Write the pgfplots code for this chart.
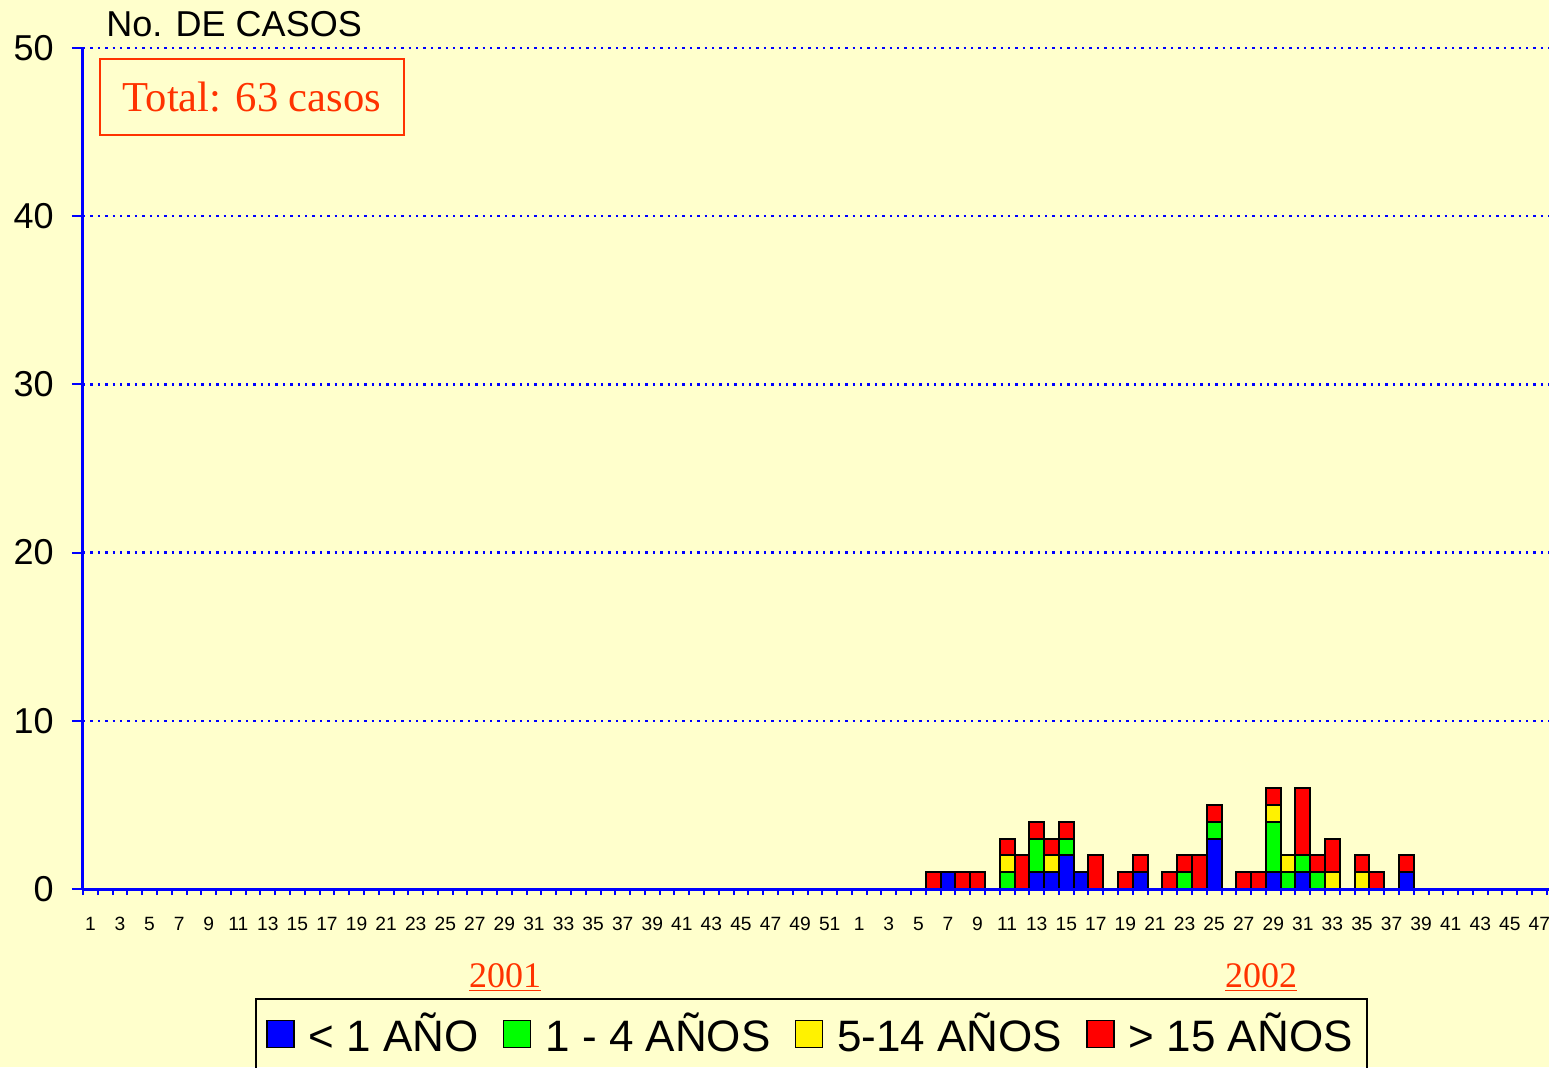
\documentclass[border=0pt]{standalone}
\usepackage{pgfplots}
\usepackage{pgfplotstable}
\usepackage{fontspec}
\pgfplotsset{compat=1.18}
\setmainfont{Liberation Sans}
\newfontfamily\timesf{Liberation Serif}
\definecolor{bgc}{HTML}{FFFFCC}
\definecolor{totc}{HTML}{FF3300}

% x = 51 + week of 2002 ; b <1, g 1-4, y 5-14, r >15
\pgfplotstableread{
x  b g y r
57 0 0 0 1
58 1 0 0 0
59 0 0 0 1
60 0 0 0 1
62 0 1 1 1
63 0 0 0 2
64 1 2 0 1
65 1 0 1 1
66 2 1 0 1
67 1 0 0 0
68 0 0 0 2
70 0 0 0 1
71 1 0 0 1
73 0 0 0 1
74 0 1 0 1
75 0 0 0 2
76 3 1 0 1
78 0 0 0 1
79 0 0 0 1
80 1 3 1 1
81 0 1 1 0
82 1 1 0 4
83 0 1 0 1
84 0 0 1 2
86 0 0 1 1
87 0 0 0 1
89 1 0 0 1
}\casos

\pgfplotsset{sq/.style={legend image code/.code={%
  \draw[##1, draw=black, line width=0.7pt] (0pt,-6.75pt) rectangle (13.5pt,6.75pt);
  \path (18.5pt,0pt);}}}

\begin{document}
\begin{tikzpicture}
\path[fill=bgc, use as bounding box] (-41.5pt,-89pt) rectangle (733pt,444.5pt);
\begin{axis}[
    scale only axis,
    width=733pt, height=420.5pt,
    xmin=-0.5, xmax=98.65, ymin=0, ymax=50,
    stack plots=y,
    every axis plot/.append style={ybar, bar width=1, bar shift=0pt,
        draw=black, line width=1pt},
    axis on top,
    axis x line*=bottom, axis y line*=left,
    axis line style={blue, line width=1.5pt},
    tick align=outside,
    tick style={blue, line width=1pt},
    major tick length=5.5pt, minor tick length=3pt,
    xtick={0,2,...,98},
    xticklabels={1,3,5,7,9,11,13,15,17,19,21,23,25,27,29,31,33,35,37,39,41,43,45,47,49,51,
                 1,3,5,7,9,11,13,15,17,19,21,23,25,27,29,31,33,35,37,39,41,43,45,47},
    major x tick style={draw=none},
    minor xtick={-0.5,0.5,...,98.5},
    ytick={0,10,...,50},
    ymajorgrids,
    grid style={blue, line width=1.2pt, dash pattern=on 1.2pt off 2.5pt},
    /pgf/number format/assume math mode=true,
    xticklabel style={font=\fontsize{9.6}{11}\selectfont, anchor=base, inner sep=0pt, yshift=-15pt},
    yticklabel style={font=\fontsize{18}{20}\selectfont, anchor=east, inner sep=0pt, xshift=-9pt},
    legend columns=4,
    legend style={at={(0.4969,-0.1296)}, anchor=north, draw=black, line width=1pt,
        fill=none, font=\fontsize{22}{26}\selectfont, inner xsep=5pt, inner ysep=5pt,
        /tikz/every even column/.append style={column sep=10pt}},
]
\addplot[fill=blue, sq] table[x=x, y=b] {\casos};
\addplot[fill=green, sq] table[x=x, y=g] {\casos};
\addplot[fill=yellow, sq] table[x=x, y=y] {\casos};
\addplot[fill=red, sq] table[x=x, y=r] {\casos};
\legend{< 1 AÑO, 1 - 4 AÑOS, 5-14 AÑOS, > 15 AÑOS}
\end{axis}
\node[anchor=base west, inner sep=0pt] at (11.5pt,426pt) {\fontsize{18}{20}\selectfont No. DE CASOS};
\node[draw=totc, line width=0.75pt, text=totc, minimum width=152pt, minimum height=38pt, inner sep=0pt]
    at (84.5pt,396pt) {\timesf\fontsize{21.3}{24}\selectfont Total: 63 casos};
\node[anchor=base, text=totc, inner sep=0pt] at (211pt,-49pt) {\timesf\fontsize{18}{20}\selectfont\underline{2001}};
\node[anchor=base, text=totc, inner sep=0pt] at (589pt,-49pt) {\timesf\fontsize{18}{20}\selectfont\underline{2002}};
\end{tikzpicture}
\end{document}
